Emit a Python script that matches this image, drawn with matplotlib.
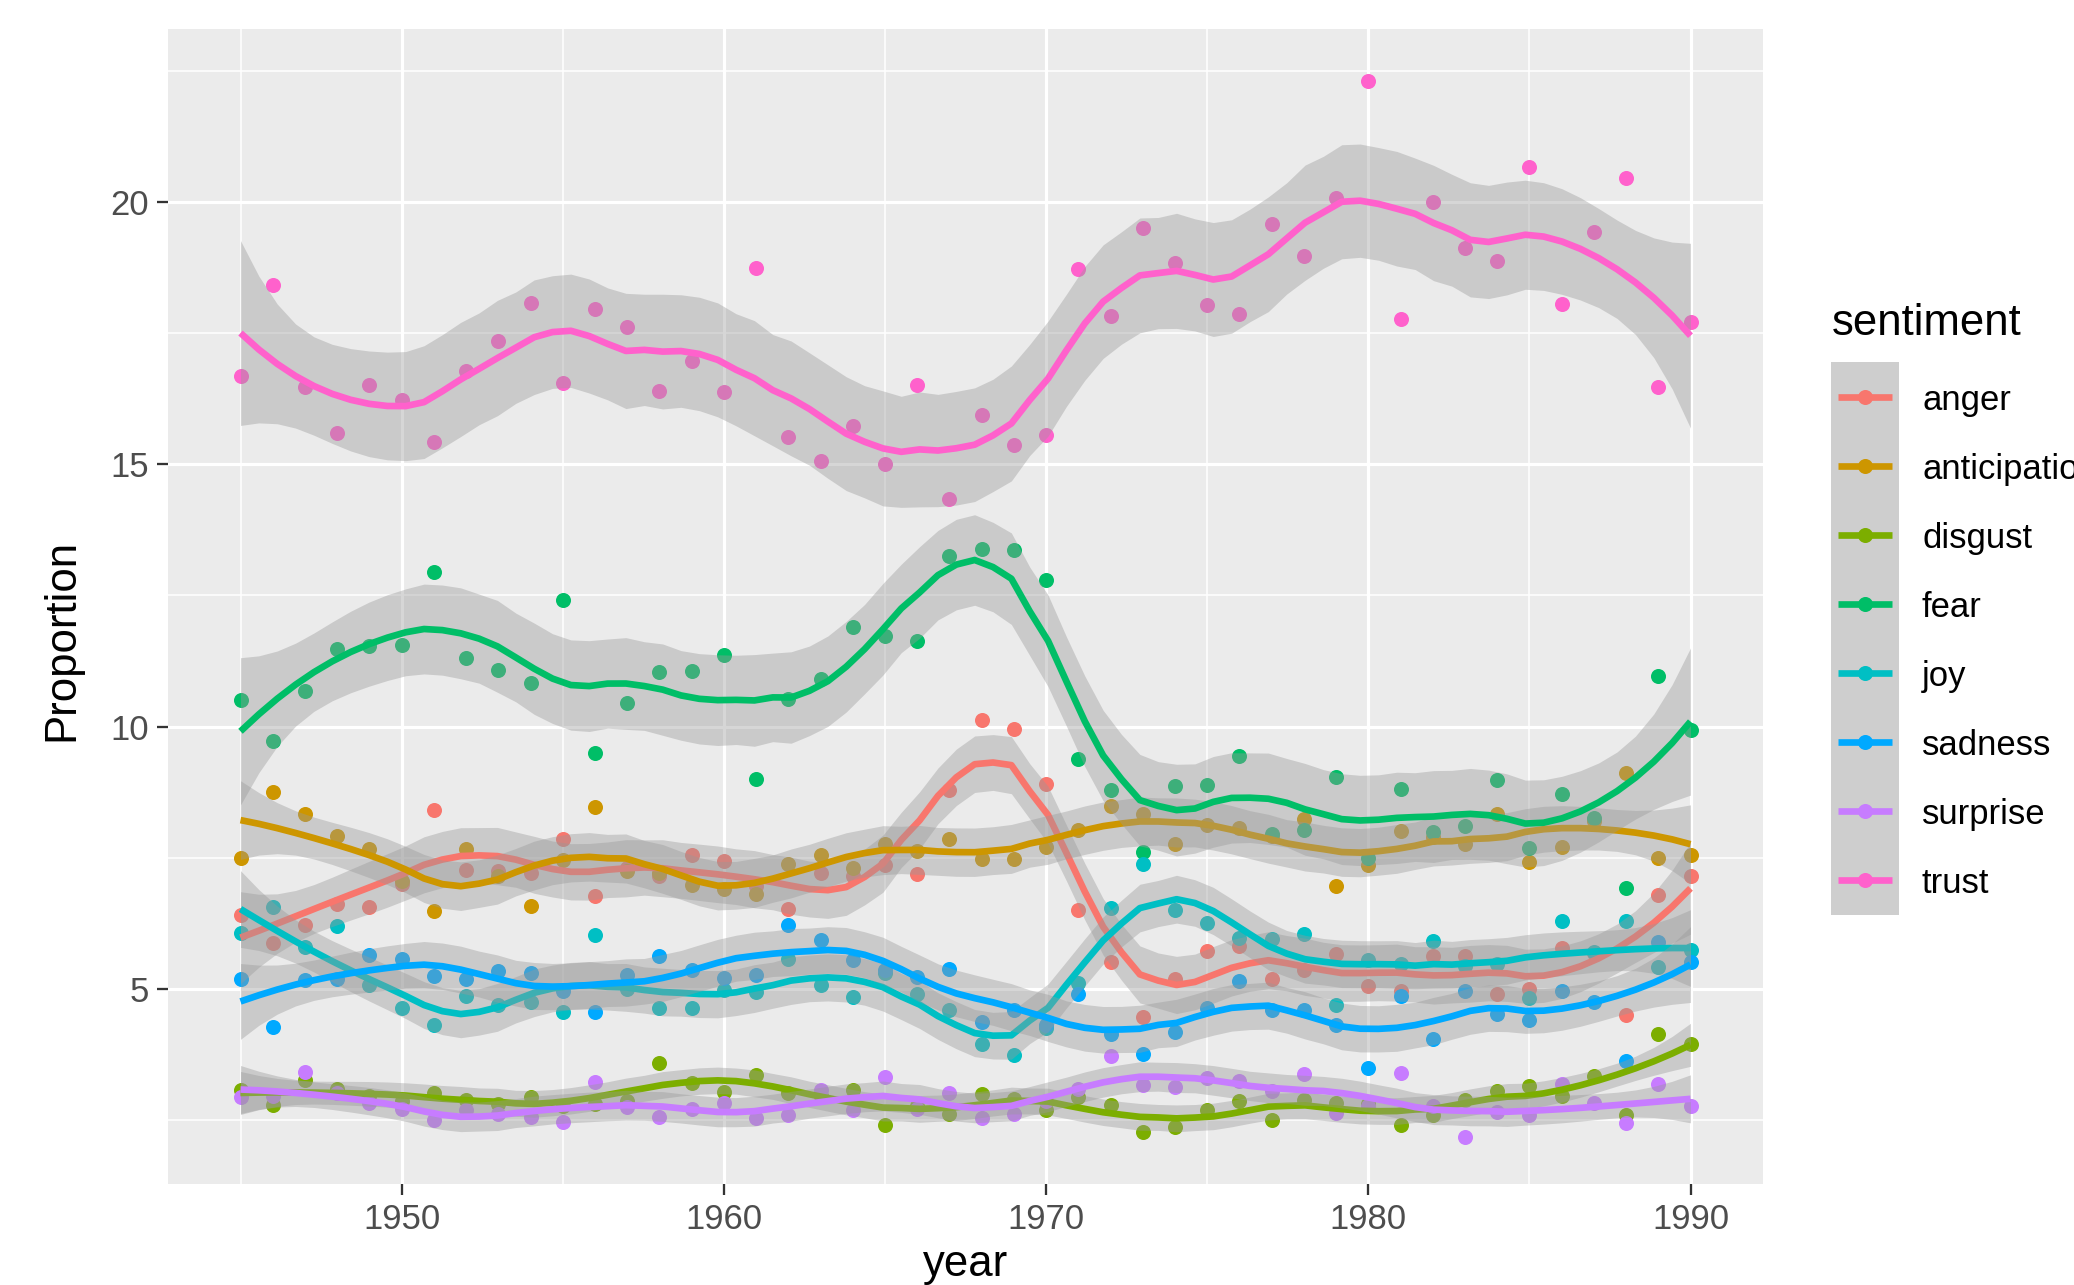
import numpy as np
import matplotlib
matplotlib.use("Agg")
import matplotlib.pyplot as plt

years = list(range(1945, 1991))
sentiments = ["anger", "anticipation", "disgust", "fear", "joy", "sadness", "surprise", "trust"]
colors = ["#F8766D", "#CD9600", "#7CAE00", "#00BE67", "#00BFC4", "#00A9FF", "#C77CFF", "#FF61CC"]

anger = [6.40, 5.86, 6.21, 6.62, 6.56, 7.00, 8.41, 7.26, 7.25, 7.20,
         7.86, 6.76, 7.30, 7.15, 7.54, 7.44, 6.95, 6.52, 7.20, 7.15,
         7.35, 7.19, 8.78, 10.13, 9.96, 8.91, 6.49, 5.51, 4.46, 5.19,
         5.72, 5.81, 5.19, 5.36, 5.66, 5.04, 4.95, 5.62, 5.62, 4.90,
         5.00, 5.78, 5.68, 4.49, 6.78, 7.15]
anticipation = [7.50, 8.75, 8.33, 7.92, 7.67, 7.05, 6.48, 7.67, 7.15, 6.58,
                7.45, 8.46, 7.25, 7.20, 6.97, 6.89, 6.81, 7.38, 7.54, 7.30,
                7.76, 7.63, 7.86, 7.47, 7.47, 7.70, 8.02, 8.49, 8.33, 7.76,
                8.13, 8.06, 7.91, 8.23, 6.95, 7.35, 8.00, 7.90, 7.76, 8.33,
                7.42, 7.71, 8.20, 9.11, 7.50, 7.55]
disgust = [3.06, 2.77, 3.25, 3.09, 2.95, 2.85, 3.00, 2.87, 2.80, 2.93,
           2.75, 2.80, 2.85, 3.58, 3.20, 3.03, 3.35, 3.00, 2.95, 3.06,
           2.39, 2.75, 2.61, 2.98, 2.90, 2.68, 2.93, 2.77, 2.26, 2.36,
           2.68, 2.85, 2.49, 2.88, 2.81, 2.80, 2.39, 2.59, 2.88, 3.04,
           3.14, 2.94, 3.33, 2.59, 4.14, 3.94]
fear = [10.51, 9.72, 10.67, 11.47, 11.53, 11.55, 12.95, 11.30, 11.08, 10.83,
        12.42, 9.50, 10.45, 11.04, 11.06, 11.37, 8.99, 10.53, 10.91, 11.90,
        11.72, 11.64, 13.26, 13.38, 13.37, 12.79, 9.38, 8.78, 7.60, 8.87,
        8.89, 9.44, 7.95, 8.02, 9.04, 7.50, 8.81, 7.98, 8.11, 8.98,
        7.68, 8.71, 8.26, 6.92, 10.96, 9.94]
joy = [6.06, 6.56, 5.80, 6.19, 5.06, 4.62, 4.30, 4.85, 4.68, 4.75,
       4.55, 6.03, 5.00, 4.62, 4.62, 4.97, 4.94, 5.57, 5.06, 4.84,
       5.30, 4.90, 4.59, 3.95, 3.73, 4.25, 5.10, 6.53, 7.38, 6.49,
       6.25, 5.97, 5.94, 6.04, 4.68, 5.55, 5.47, 5.91, 5.43, 5.47,
       4.81, 6.28, 5.70, 6.28, 5.41, 5.73]
sadness = [5.19, 4.27, 5.16, 5.19, 5.64, 5.57, 5.24, 5.19, 5.34, 5.29,
           4.95, 4.55, 5.25, 5.62, 5.36, 5.21, 5.25, 6.21, 5.92, 5.54,
           5.35, 5.22, 5.38, 4.36, 4.59, 4.30, 4.89, 4.14, 3.76, 4.17,
           4.62, 5.15, 4.59, 4.59, 4.30, 3.49, 4.85, 4.04, 4.95, 4.52,
           4.39, 4.95, 4.75, 3.62, 5.88, 5.51]
surprise = [2.93, 2.95, 3.41, 3.00, 2.81, 2.71, 2.49, 2.68, 2.61, 2.55,
            2.46, 3.22, 2.74, 2.55, 2.71, 2.81, 2.52, 2.58, 3.06, 2.68,
            3.31, 2.71, 3.00, 2.52, 2.61, 2.85, 3.09, 3.72, 3.16, 3.12,
            3.30, 3.23, 3.04, 3.36, 2.62, 2.75, 3.39, 2.75, 2.17, 2.65,
            2.59, 3.17, 2.81, 2.43, 3.17, 2.75]
trust = [16.68, 18.43, 16.48, 15.61, 16.51, 16.24, 15.42, 16.79, 17.36, 18.08,
         16.55, 17.96, 17.62, 16.41, 16.98, 16.38, 18.75, 15.53, 15.07, 15.73,
         15.00, 16.52, 14.34, 15.95, 15.38, 15.56, 18.73, 17.83, 19.51, 18.84,
         18.04, 17.87, 19.58, 18.98, 20.09, 22.31, 17.78, 20.00, 19.14, 18.89,
         20.67, 18.07, 19.44, 20.47, 16.48, 17.71]

xticks = [1950, 1960, 1970, 1980, 1990]
yticks = [5, 10, 15, 20]

series = [anger, anticipation, disgust, fear, joy, sadness, surprise, trust]


# ---- loess (local quadratic, tricube weights), like geom_smooth ----
def loess_rows(x, x0s, span, degree=2):
    n = len(x)
    q = int(np.floor(n * span))
    rows = []
    for x0 in x0s:
        d = np.abs(x - x0)
        h = np.sort(d)[q - 1]
        u = np.clip(d / h, 0, 1)
        w = (1 - u ** 3) ** 3
        X = np.vander(x - x0, degree + 1, increasing=True)
        Wm = np.diag(w)
        A = X.T @ Wm @ X
        B = np.linalg.solve(A, X.T @ Wm)
        rows.append(B[0])
    return np.array(rows)


def t975(df):
    z = 1.959964
    return (z + (z ** 3 + z) / (4 * df) + (5 * z ** 5 + 16 * z ** 3 + 3 * z) / (96 * df ** 2))


def smooth(x, y, span=0.3, npts=80):
    x = np.asarray(x, float)
    y = np.asarray(y, float)
    xg = np.linspace(x.min(), x.max(), npts)
    L = loess_rows(x, x, span)
    R = np.eye(len(x)) - L
    M = R.T @ R
    d1 = np.trace(M)
    d2 = np.trace(M @ M)
    res = y - L @ y
    sigma = np.sqrt(np.sum(res ** 2) / d1)
    df = d1 ** 2 / d2
    Lg = loess_rows(x, xg, span)
    fit = Lg @ y
    se = sigma * np.sqrt(np.sum(Lg ** 2, axis=1))
    tq = t975(df)
    return xg, fit, fit - tq * se, fit + tq * se


W, H, DPI = 2074, 1285, 300
fig = plt.figure(figsize=(W / DPI, H / DPI), dpi=DPI)
fig.patch.set_facecolor("white")

L_, R_, T_, B_ = 168, 1763, 29, 1184
ax = fig.add_axes([L_ / W, 1 - B_ / H, (R_ - L_) / W, (B_ - T_) / H])
ax.set_facecolor("#EBEBEB")
for s in ax.spines.values():
    s.set_visible(False)

ax.set_xlim(1942.75, 1992.25)
ax.set_ylim(1.27, 23.31)
ax.set_xticks(xticks)
ax.set_yticks(yticks)
ax.set_xticks([1945, 1955, 1965, 1975, 1985], minor=True)
ax.set_yticks([2.5, 7.5, 12.5, 17.5, 22.5], minor=True)
ax.grid(which="major", color="white", linewidth=0.75)
ax.grid(which="minor", color="white", linewidth=0.38)
ax.set_axisbelow(True)
ax.tick_params(which="major", length=2.6, width=0.55, color="#333333",
               labelcolor="#4D4D4D", labelsize=8.3, pad=2.0)
ax.tick_params(which="minor", length=0)
for lab in ax.get_xticklabels() + ax.get_yticklabels():
    lab.set_fontfamily("Liberation Sans")

x = np.array(years, float)
# points first
for vals, col in zip(series, colors):
    ax.scatter(x, vals, s=13, color=col, linewidths=0, zorder=2)
# smooth ribbons + lines per group
z = 3
for vals, col in zip(series, colors):
    xg, fit, lo, hi = smooth(x, vals, span=0.3)
    ax.fill_between(xg, lo, hi, color="#999999", alpha=0.4, linewidth=0, zorder=z)
    ax.plot(xg, fit, color=col, linewidth=1.6, zorder=z + 0.5, solid_capstyle="butt")
    z += 1

# axis titles
fig.text(62 / W, 1 - 640 / H, "Proportion", rotation=90, ha="center", va="center",
         fontsize=10.5, family="Liberation Sans", color="black")
fig.text(966 / W, 1 - 1276 / H, "year", ha="center", va="baseline",
         fontsize=10.5, family="Liberation Sans", color="black")

# legend
fig.text(1832 / W, 1 - 335 / H, "sentiment", ha="left", va="baseline",
         fontsize=10.5, family="Liberation Sans", color="black")
kx0, kx1, ky0, ky1 = 1831, 1899, 362, 915
lax = fig.add_axes([kx0 / W, 1 - ky1 / H, (kx1 - kx0) / W, (ky1 - ky0) / H])
lax.set_xlim(0, 1)
lax.set_ylim(len(sentiments), 0)
lax.axis("off")
lax.add_patch(plt.Rectangle((0, 0), 1, len(sentiments), color="#CECECE", linewidth=0))
rowh = (ky1 - ky0) / len(sentiments)
for i, (name, col) in enumerate(zip(sentiments, colors)):
    lax.plot([0.1, 0.9], [i + 0.5, i + 0.5], color=col, linewidth=1.6, solid_capstyle="butt")
    lax.scatter([0.5], [i + 0.5], s=13, color=col, linewidths=0, zorder=3)
    fig.text(1922 / W, 1 - (ky0 + rowh * (i + 0.5)) / H, name, ha="left", va="center_baseline",
             fontsize=8.3, family="Liberation Sans", color="black")

fig.savefig("out.png", dpi=DPI)
